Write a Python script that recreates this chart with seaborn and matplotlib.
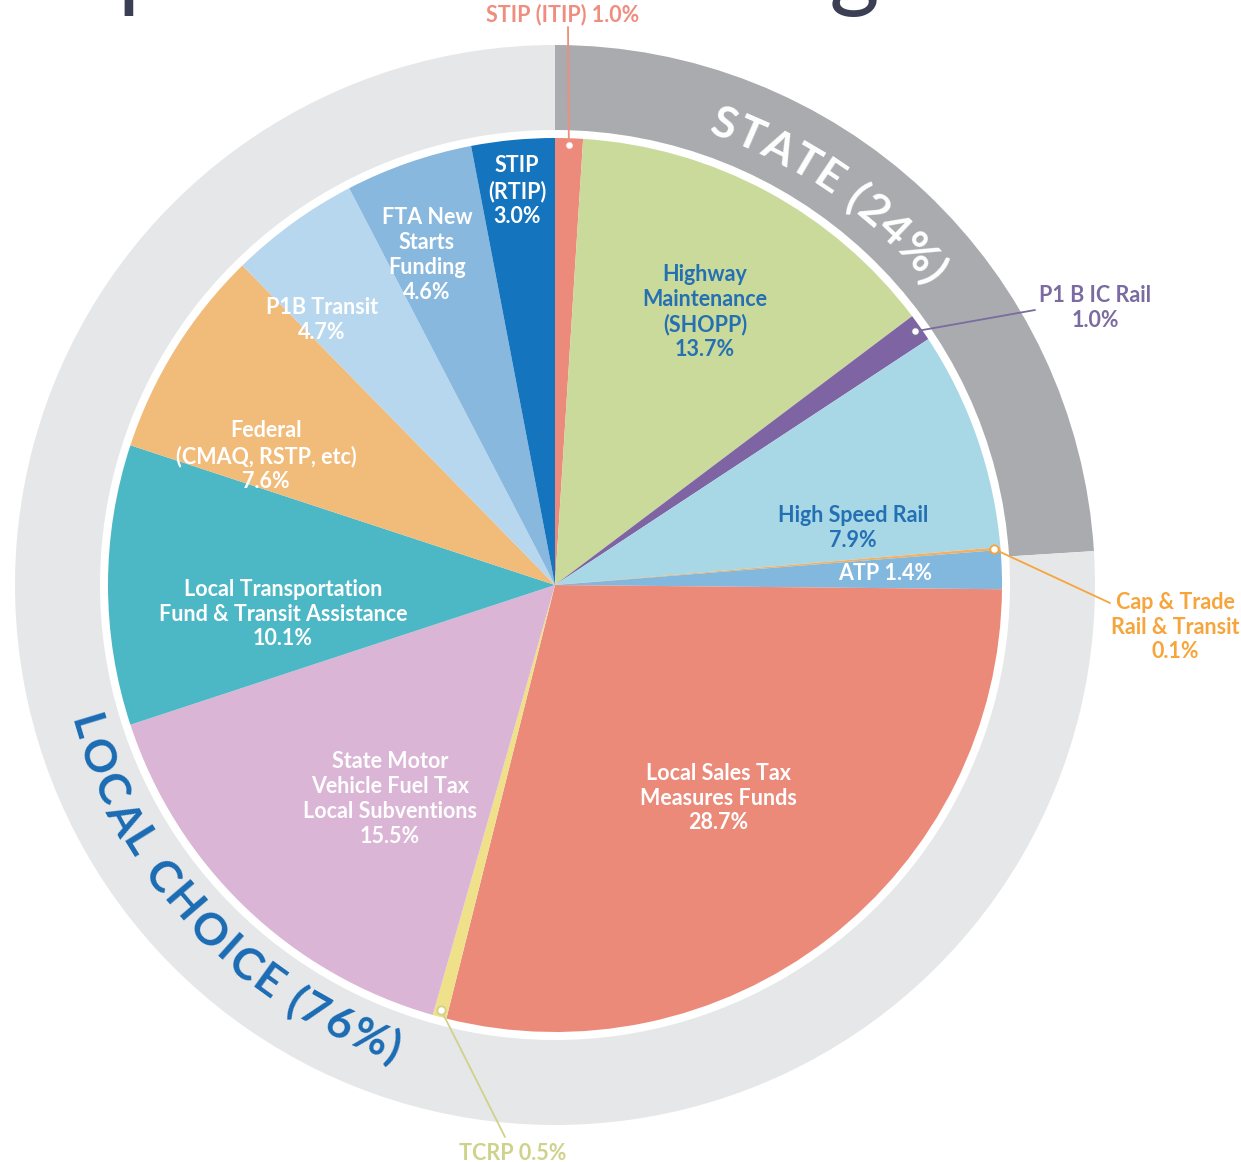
"""Funding sources pie with state / local choice ring."""

import matplotlib

matplotlib.use("Agg")
import matplotlib.pyplot as plt
import numpy as np
import seaborn as sns
from matplotlib.font_manager import FontProperties

# ---- data -------------------------------------------------------------
sources = [
    "STIP (ITIP)",
    "Highway\nMaintenance\n(SHOPP)",
    "P1 B IC Rail",
    "High Speed Rail",
    "Cap & Trade\nRail & Transit",
    "ATP",
    "Local Sales Tax\nMeasures Funds",
    "TCRP",
    "State Motor\nVehicle Fuel Tax\nLocal Subventions",
    "Local Transportation\nFund & Transit Assistance",
    "Federal\n(CMAQ, RSTP, etc)",
    "P1B Transit",
    "FTA New\nStarts\nFunding",
    "STIP\n(RTIP)",
]
shares = [1.0, 13.7, 1.0, 7.9, 0.1, 1.4, 28.7, 0.5, 15.5, 10.1, 7.6, 4.7, 4.6, 3.0]
slice_colors = [
    "#ec8b7b", "#c9da9b", "#7e64a3", "#a8d8e6", "#f2b162", "#82b7de", "#ec8a7a",
    "#efe08a", "#dbb5d5", "#4db8c5", "#f1bb79", "#b7d7ee", "#88b8de", "#1474bd",
]
groups = ["STATE", "LOCAL CHOICE"]
group_shares = [24, 76]
group_colors = ["#a9abae", "#e6e7e8"]

# ---- layout (reference pixel geometry) --------------------------------
W, H = 1241, 1162
CX, CY, R = 555, 585, 447
RING_OUT, RING_IN = 540, 455
BLUE = "#2570b3"


def px(x, y):
    return (x - CX) / R, (CY - y) / R


# label anchor (pixels) and colour for labels drawn inside the slices
inner_pos = {
    1: (705, 312, BLUE),
    3: (853, 528, BLUE),
    6: (718, 798, "white"),
    8: (390, 799, "white"),
    9: (283, 614, "white"),
    10: (266, 456, "white"),
    11: (322, 320, "white"),
    12: (427, 255, "white"),
    13: (517, 191, "white"),
}
# leader-line end (pixels), text anchor (pixels), colour for outside labels
outer_pos = {
    0: ((568, 27), (563, 15), "#ef8d7e"),
    2: ((1035, 310), (1095, 308), "#7a6ba0"),
    4: ((1110, 603), (1175, 627), "#f6a53c"),
    7: ((505, 1137), (513, 1153), "#cfd28a"),
}

sns.set_theme(style="white")
plt.rcParams["font.family"] = ["Lato", "DejaVu Sans"]

fig = plt.figure(figsize=(W / 100, H / 100), dpi=100)
ax = fig.add_axes([0, 0, 1, 1])

wedges, _ = ax.pie(
    shares,
    colors=slice_colors,
    startangle=90,
    counterclock=False,
    radius=1.0,
    wedgeprops=dict(linewidth=0),
)
ax.pie(
    group_shares,
    colors=group_colors,
    startangle=90,
    counterclock=False,
    radius=RING_OUT / R,
    wedgeprops=dict(width=(RING_OUT - RING_IN) / R, linewidth=0),
)

x0, y1 = px(0, 0)
x1, y0 = px(W, H)
ax.set_xlim(x0, x1)
ax.set_ylim(y0, y1)
ax.set_aspect("equal")
ax.axis("off")

label_font = dict(fontsize=15.5, fontweight="bold", linespacing=1.22)


def label_text(i):
    return f"{sources[i]}\n{shares[i]:.1f}%"


for i, (lx, ly, col) in inner_pos.items():
    x, y = px(lx, ly)
    ax.text(x, y, label_text(i), ha="center", va="center", color=col, **label_font)

# ATP sits in a thin slice: place it along the slice's own mid angle
atp = wedges[5]
mid = np.radians((atp.theta1 + atp.theta2) / 2)
ax.text(0.74 * np.cos(mid), 0.74 * np.sin(mid), f"{sources[5]} {shares[5]:.1f}%",
        ha="center", va="center", color="white", **label_font)

for i, (end, anchor, col) in outer_pos.items():
    w = wedges[i]
    mid = np.radians((w.theta1 + w.theta2) / 2)
    sx, sy = 0.985 * np.cos(mid), 0.985 * np.sin(mid)
    ex, ey = px(*end)
    ax.plot([sx, ex], [sy, ey], color=col, lw=1.3, zorder=5)
    ax.plot(sx, sy, "o", ms=6, mfc="white", mec=col, mew=1.3, zorder=6)
    tx, ty = px(*anchor)
    if i in (0, 7):
        txt = f"{sources[i]} {shares[i]:.1f}%"
    else:
        txt = label_text(i)
    ax.text(tx, ty, txt, ha="center", va="center", color=col, **label_font)

# ---- curved ring titles ------------------------------------------------
renderer = fig.canvas.get_renderer()


def text_width(s, prop):
    w, _, _ = renderer.get_text_width_height_descent(s + "|", prop, ismath=False)
    w0, _, _ = renderer.get_text_width_height_descent("|", prop, ismath=False)
    return w - w0


def arc_text(text, mid_deg, radius, clockwise, size, color, tracking=0.0):
    prop = FontProperties(family="Lato", weight="bold", size=size)
    r_px = radius * R
    n = len(text)
    span = (text_width(text, prop) + tracking * (n - 1)) / r_px
    sign = -1 if clockwise else 1
    start = np.radians(mid_deg) - sign * span / 2
    for i, ch in enumerate(text):
        if ch == " ":
            continue
        centre = (text_width(text[:i], prop) + text_width(text[: i + 1], prop)) / 2
        centre += tracking * i
        phi = start + sign * centre / r_px
        rot = np.degrees(phi) - 90 if clockwise else np.degrees(phi) + 90
        ax.text(radius * np.cos(phi), radius * np.sin(phi), ch, rotation=rot,
                rotation_mode="anchor", ha="center", va="center",
                fontproperties=prop, color=color, zorder=4)


arc_text(f"{groups[0]} ({group_shares[0]}%)", 55.0, 1.097, True, 32, "white", 2.0)
arc_text(f"{groups[1]} ({group_shares[1]}%)", 223.5, 1.098, False, 32, "#1b6cb4", 2.0)

# ---- page title, cropped at the top of the image -----------------------
title = "Transportation Funding"
tprop = FontProperties(family="Lato", size=65)
gap = text_width("Transportation Fundin", tprop) - text_width("Trans", tprop)
tsize = 65 * 712 / gap
tprop = FontProperties(family="Lato", size=tsize)
tx = 118 - text_width("Trans", tprop)
fig.text(tx / W, 1.0 + 1 / H, title, fontproperties=tprop, color="#3c3f54",
         ha="left", va="baseline")

fig.savefig("out.png", dpi=100)
